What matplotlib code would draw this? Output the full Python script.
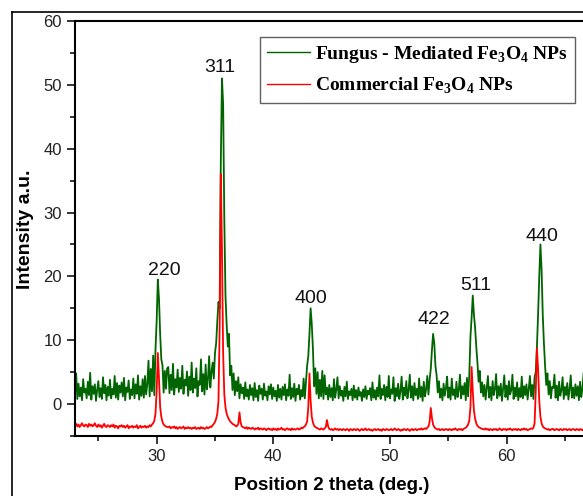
import numpy as np
import matplotlib
matplotlib.use("Agg")
import matplotlib.pyplot as plt
from matplotlib.lines import Line2D
from matplotlib.ticker import MultipleLocator

# ---------------- data ----------------
two_theta_start = 23.0
two_theta_step = 0.1

# Fungus-mediated Fe3O4 NPs, one row per degree (23.0 ... 66.6)
fungus = [
    1.5, 4.8, 0.8, 3.2, 1.2, 2.6, 0.6, 3.9, 1.8, 2.4,   # 23
    0.9, 3.5, 1.4, 4.9, 0.7, 2.8, 1.6, 3.1, 0.5, 2.2,   # 24
    3.6, 1.1, 2.5, 0.8, 4.2, 1.7, 3.0, 0.6, 2.7, 1.3,   # 25
    3.8, 0.9, 2.4, 1.5, 4.4, 1.0, 3.3, 0.7, 2.9, 1.8,   # 26
    3.4, 1.2, 4.1, 0.6, 2.6, 1.9, 3.7, 0.8, 2.3, 1.4,   # 27
    4.0, 0.9, 3.1, 1.6, 4.5, 0.7, 2.8, 1.3, 3.9, 1.0,   # 28
    4.4, 1.5, 3.2, 6.8, 1.2, 5.5, 2.0, 7.6, 1.4, 8.5,   # 29
    13.0, 19.5, 16.5, 11.0, 7.0, 6.1, 1.8, 5.2, 2.4, 5.6,  # 30
    5.8, 1.7, 4.6, 2.2, 6.3, 1.5, 3.9, 2.6, 5.4, 1.9,   # 31
    4.1, 2.4, 6.0, 1.6, 3.8, 2.9, 5.1, 1.3, 4.3, 2.2,   # 32
    6.5, 1.8, 4.0, 2.5, 5.6, 1.2, 3.6, 3.0, 7.0, 2.0,   # 33
    4.7, 1.5, 6.2, 2.3, 3.9, 7.5, 2.6, 5.0, 6.5, 4.0,   # 34
    8.0, 9.5, 13.0, 16.0, 15.0, 38.0, 51.0, 47.0, 29.0, 17.0,  # 35
    12.5, 9.0, 11.0, 4.5, 6.0, 2.2, 4.8, 1.4, 3.6, 2.0,  # 36
    4.2, 0.9, 3.1, 1.7, 2.6, 0.8, 3.4, 1.2, 2.3, 0.7,   # 37
    3.0, 1.4, 2.5, 0.6, 3.3, 1.1, 2.2, 0.5, 2.9, 1.6,   # 38
    2.4, 0.7, 3.2, 1.3, 2.0, 0.6, 2.8, 1.5, 3.1, 0.8,   # 39
    2.6, 1.2, 2.1, 0.5, 3.0, 1.0, 2.4, 0.7, 2.7, 1.4,   # 40
    3.1, 0.6, 2.3, 1.3, 4.6, 0.8, 2.5, 1.1, 3.2, 0.5,   # 41
    2.4, 1.5, 3.0, 0.7, 2.2, 1.2, 4.0, 0.9, 3.4, 6.0,   # 42
    7.5, 11.0, 15.0, 12.5, 8.5, 2.8, 5.6, 1.6, 5.0, 0.9,  # 43
    3.8, 1.2, 5.2, 0.8, 4.5, 1.5, 2.6, 0.7, 3.0, 1.1,   # 44
    2.5, 0.6, 3.9, 1.0, 2.3, 4.2, 0.9, 2.8, 1.3, 2.1,   # 45
    0.5, 2.7, 1.2, 3.5, 0.8, 2.0, 1.4, 2.4, 0.6, 2.9,   # 46
    1.0, 2.2, 0.7, 2.6, 1.3, 1.9, 0.5, 2.3, 1.1, 2.8,   # 47
    0.8, 2.1, 1.5, 2.5, 0.6, 3.4, 1.0, 2.2, 0.7, 2.6,   # 48
    1.2, 4.5, 0.8, 2.4, 1.4, 3.0, 0.6, 2.7, 1.1, 4.4,   # 49
    0.9, 2.3, 1.6, 4.2, 0.5, 2.5, 1.2, 3.2, 0.8, 2.0,   # 50
    4.3, 0.7, 2.6, 1.3, 3.6, 0.9, 2.2, 4.6, 1.0, 2.8,   # 51
    0.6, 3.3, 1.4, 2.4, 0.8, 4.0, 1.1, 2.7, 0.5, 3.5,   # 52
    1.2, 2.3, 4.4, 1.5, 3.8, 5.5, 8.5, 11.0, 9.5, 6.0,  # 53
    4.5, 1.8, 3.6, 1.0, 2.4, 0.6, 3.2, 1.3, 2.5, 4.3,   # 54
    1.0, 2.6, 0.7, 4.0, 1.4, 2.3, 0.8, 3.5, 1.1, 2.2,   # 55
    4.6, 0.9, 2.8, 1.5, 3.3, 0.6, 4.1, 1.2, 4.5, 10.5,  # 56
    13.5, 17.0, 14.0, 12.0, 9.0, 6.5, 3.5, 5.2, 1.8, 3.4,  # 57
    1.2, 3.0, 0.7, 2.5, 4.4, 1.0, 2.7, 0.6, 3.6, 1.4,   # 58
    2.3, 4.7, 0.9, 2.8, 1.3, 3.2, 0.5, 2.4, 4.5, 1.1,   # 59
    2.9, 0.7, 3.6, 1.5, 2.2, 4.6, 0.8, 2.6, 1.2, 3.4,   # 60
    0.6, 2.5, 1.1, 4.3, 0.9, 2.8, 1.4, 3.1, 0.7, 2.4,   # 61
    4.4, 1.2, 3.0, 0.8, 4.2, 5.0, 9.0, 14.0, 20.0, 25.0,  # 62
    21.0, 14.0, 9.5, 6.0, 3.0, 4.8, 1.5, 3.6, 0.9, 2.7,  # 63
    2.5, 4.6, 1.0, 2.9, 0.6, 3.5, 1.3, 2.2, 4.2, 0.8,   # 64
    2.7, 1.4, 3.3, 0.7, 2.4, 4.5, 1.0, 2.6, 0.9, 3.1,   # 65
    1.3, 2.8, 0.6, 3.5, 1.1, 2.4, 4.8,                  # 66
]

# Commercial Fe3O4 NPs
commercial = [
    -3.4, -3.1, -3.5, -3.2, -3.6, -3.3, -3.0, -3.4, -3.5, -3.2,  # 23
    -3.3, -3.6, -3.1, -3.4, -3.2, -3.5, -3.3, -3.0, -3.4, -3.6,  # 24
    -3.2, -3.5, -3.3, -3.7, -3.4, -3.1, -3.5, -3.6, -3.3, -3.4,  # 25
    -3.6, -3.3, -3.5, -3.2, -3.7, -3.4, -3.5, -3.8, -3.4, -3.5,  # 26
    -3.3, -3.6, -3.4, -3.7, -3.5, -3.3, -3.8, -3.5, -3.6, -3.4,  # 27
    -3.7, -3.5, -3.6, -3.3, -3.8, -3.6, -3.4, -3.7, -3.5, -3.6,  # 28
    -3.4, -3.7, -3.5, -3.6, -3.3, -3.5, -3.2, -3.0, -2.6, -1.5,  # 29
    2.0, 8.0, 4.0, -0.5, -2.0, -2.8, -3.2, -3.4, -3.5, -3.6,     # 30
    -3.6, -3.5, -3.8, -3.6, -3.7, -3.5, -3.8, -3.6, -3.9, -3.7,  # 31
    -3.6, -3.8, -3.7, -3.5, -3.9, -3.7, -3.8, -3.6, -3.8, -3.7,  # 32
    -3.9, -3.7, -3.8, -3.6, -3.9, -3.8, -3.7, -3.9, -3.6, -3.8,  # 33
    -3.7, -3.9, -3.8, -3.6, -3.8, -3.7, -3.5, -3.6, -3.3, -3.1,  # 34
    -2.8, -2.3, -1.5, 0.5, 12.0, 36.0, 24.0, 8.0, 1.5, -0.5,     # 35
    -1.5, -2.0, -2.4, -2.7, -2.9, -3.1, -3.2, -3.3, -3.5, -3.4,  # 36
    -3.1, -1.3, -2.9, -3.5, -3.6, -3.7, -3.8, -3.6, -3.9, -3.7,  # 37
    -3.8, -3.9, -3.7, -3.8, -4.0, -3.8, -3.9, -3.7, -4.0, -3.8,  # 38
    -3.9, -4.0, -3.8, -3.9, -4.1, -3.9, -3.8, -4.0, -3.9, -4.1,  # 39
    -3.8, -4.0, -3.9, -4.1, -3.8, -4.0, -3.9, -3.7, -4.0, -3.9,  # 40
    -4.1, -3.9, -3.8, -4.0, -3.9, -4.1, -3.8, -4.0, -3.9, -4.0,  # 41
    -3.9, -3.8, -4.0, -3.9, -3.7, -3.8, -3.6, -3.5, -3.2, -2.7,  # 42
    -0.5, 4.8, 0.5, -2.0, -2.9, -3.4, -3.6, -3.7, -3.8, -3.9,    # 43
    -4.0, -3.8, -3.9, -4.0, -3.8, -3.6, -2.5, -3.5, -3.9, -4.0,  # 44
    -3.9, -4.1, -4.0, -3.8, -4.0, -3.9, -4.1, -3.9, -4.0, -4.1,  # 45
    -3.9, -4.0, -4.1, -3.9, -4.0, -4.2, -3.9, -4.0, -4.1, -3.9,  # 46
    -4.0, -4.1, -3.9, -4.0, -4.2, -4.0, -3.9, -4.1, -4.0, -3.8,  # 47
    -4.1, -4.0, -3.9, -4.1, -4.0, -4.2, -4.0, -3.9, -4.1, -4.0,  # 48
    -3.9, -4.1, -4.0, -4.2, -3.9, -4.0, -4.1, -3.9, -4.0, -4.1,  # 49
    -4.0, -3.9, -4.1, -4.0, -3.8, -4.0, -4.1, -3.9, -4.0, -4.2,  # 50
    -4.0, -4.1, -3.9, -4.0, -4.1, -3.9, -4.0, -4.2, -4.0, -3.9,  # 51
    -4.1, -4.0, -3.9, -4.1, -4.0, -3.9, -4.0, -3.8, -4.0, -3.9,  # 52
    -3.8, -3.9, -3.7, -3.5, -2.8, -0.6, -2.2, -3.2, -3.6, -3.8,  # 53
    -3.9, -4.0, -3.9, -4.1, -4.0, -3.9, -4.1, -4.0, -3.9, -4.0,  # 54
    -4.1, -3.9, -4.0, -4.1, -3.9, -4.0, -3.8, -4.0, -4.1, -3.9,  # 55
    -4.0, -3.9, -4.1, -3.9, -3.8, -3.7, -3.5, -3.2, -2.6, -0.5,  # 56
    5.8, 2.0, -1.0, -2.3, -3.0, -3.4, -3.6, -3.7, -3.8, -3.9,    # 57
    -3.9, -4.0, -3.8, -4.0, -3.9, -4.1, -3.9, -4.0, -4.1, -3.9,  # 58
    -4.0, -3.9, -4.1, -4.0, -3.8, -4.0, -4.1, -3.9, -4.0, -3.9,  # 59
    -4.1, -3.9, -4.0, -3.8, -4.0, -4.1, -3.9, -4.0, -3.9, -4.1,  # 60
    -3.9, -4.0, -4.1, -3.9, -4.0, -3.8, -4.0, -3.9, -4.1, -4.0,  # 61
    -3.9, -3.8, -3.9, -3.7, -3.0, 2.0, 8.7, 5.5, 0.5, -2.0,      # 62
    -3.0, -3.5, -3.7, -3.8, -3.9, -4.0, -3.9, -4.1, -4.0, -3.9,  # 63
    -3.9, -4.1, -4.0, -3.9, -4.0, -4.1, -3.9, -4.0, -4.1, -3.9,  # 64
    -4.0, -3.9, -4.1, -4.0, -3.9, -4.1, -4.0, -3.9, -4.0, -4.1,  # 65
    -3.9, -4.0, -4.1, -3.9, -4.0, -4.1, -3.9,                    # 66
]

peak_labels = ["220", "311", "400", "422", "511", "440"]
peak_label_x = [30.64, 35.44, 43.24, 53.78, 57.38, 63.03]
peak_label_y = [20.25, 52.0, 15.85, 12.57, 17.89, 25.56]

series_names = [r"Fungus - Mediated Fe$_\mathregular{3}$O$_\mathregular{4}$ NPs",
                r"Commercial Fe$_\mathregular{3}$O$_\mathregular{4}$ NPs"]

# ---------------- figure ----------------
plt.rcParams["font.family"] = ["Liberation Sans", "DejaVu Sans"]

W, H = 583, 496
fig = plt.figure(figsize=(W / 100, H / 100), dpi=100)
ax = fig.add_axes([75 / W, 60 / H, 508 / W, 415 / H])

x = two_theta_start + two_theta_step * np.arange(len(fungus))
ax.plot(x, fungus, color="#006400", lw=1.3, label=series_names[0])
ax.plot(x, commercial, color="#ff0000", lw=1.3, label=series_names[1])

ax.set_xlim(23.0, 66.55)
ax.set_ylim(-5, 60)
ax.xaxis.set_major_locator(MultipleLocator(10))
ax.xaxis.set_minor_locator(MultipleLocator(5))
ax.yaxis.set_major_locator(MultipleLocator(10))
ax.yaxis.set_minor_locator(MultipleLocator(5))
ax.tick_params(which="both", direction="out", width=1.1, colors="black",
               labelsize=12, pad=3.5)
ax.tick_params(which="major", length=5.8)
ax.tick_params(which="minor", length=3.6)
ax.tick_params(axis="both", labelcolor="#222222")

ax.spines["right"].set_visible(False)
for s in ["left", "bottom", "top"]:
    ax.spines[s].set_linewidth(1.5)

for lab, px, py in zip(peak_labels, peak_label_x, peak_label_y):
    ax.text(px, py, lab, ha="center", va="baseline", fontsize=14, color="#111111")

leg = ax.legend(loc="upper left", bbox_to_anchor=(260 / W, 1 - 37 / H),
                bbox_transform=fig.transFigure,
                prop={"family": "Liberation Serif", "weight": "bold", "size": 14},
                frameon=True, fancybox=False, edgecolor="#606060", framealpha=1,
                borderpad=0.35, handlelength=2.2, handletextpad=0.3,
                labelspacing=0.55, borderaxespad=0)
leg.get_frame().set_linewidth(1.0)
for line in leg.get_lines():
    line.set_linewidth(1.0)

fig.text(25 / W, 1 - 229 / H, "Intensity a.u.", rotation=90, ha="center",
         va="center", fontsize=14, fontweight="bold")
fig.text(332 / W, 1.5 / H, "Position 2 theta (deg.)", ha="center",
         va="bottom", fontsize=13.5, fontweight="bold")

# outer frame of the original figure
fig.add_artist(Line2D([12 / W, 1.0], [1 - 12 / H, 1 - 12 / H],
                      transform=fig.transFigure, color="black", lw=1.2))
fig.add_artist(Line2D([12 / W, 12 / W], [0.0, 1 - 12 / H],
                      transform=fig.transFigure, color="black", lw=1.2))

fig.savefig("out.png", dpi=100)
